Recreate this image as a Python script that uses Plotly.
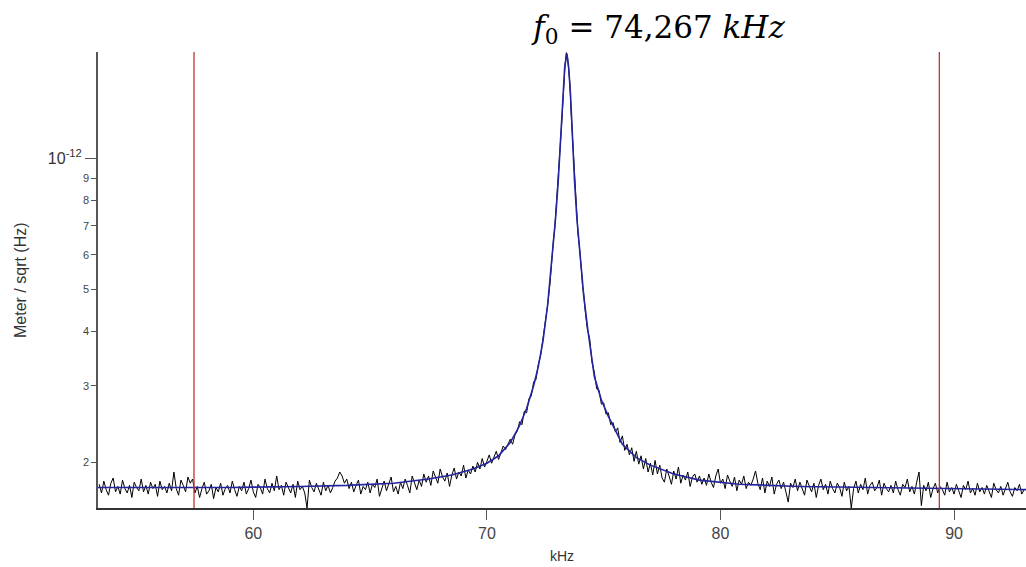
import math
import plotly.graph_objects as go

# ---------------- data (amplitudes in units of 1e-13 m/sqrt(Hz)) ----------------
SCALE = 1e-13

freq_khz = [
    53.4, 53.5, 53.6, 53.7, 53.8, 53.9, 54.0, 54.1, 54.2, 54.3,
    54.4, 54.5, 54.6, 54.7, 54.8, 54.9, 55.0, 55.1, 55.2, 55.3,
    55.4, 55.5, 55.6, 55.7, 55.8, 55.9, 56.0, 56.1, 56.2, 56.3,
    56.4, 56.5, 56.6, 56.7, 56.8, 56.9, 57.0, 57.1, 57.2, 57.3,
    57.4, 57.5, 57.6, 57.7, 57.8, 57.9, 58.0, 58.1, 58.2, 58.3,
    58.4, 58.5, 58.6, 58.7, 58.8, 58.9, 59.0, 59.1, 59.2, 59.3,
    59.4, 59.5, 59.6, 59.7, 59.8, 59.9, 60.0, 60.1, 60.2, 60.3,
    60.4, 60.5, 60.6, 60.7, 60.8, 60.9, 61.0, 61.1, 61.2, 61.3,
    61.4, 61.5, 61.6, 61.7, 61.8, 61.9, 62.0, 62.1, 62.2, 62.3,
    62.4, 62.5, 62.6, 62.7, 62.8, 62.9, 63.0, 63.1, 63.2, 63.3,
    63.4, 63.5, 63.6, 63.7, 63.8, 63.9, 64.0, 64.1, 64.2, 64.3,
    64.4, 64.5, 64.6, 64.7, 64.8, 64.9, 65.0, 65.1, 65.2, 65.3,
    65.4, 65.5, 65.6, 65.7, 65.8, 65.9, 66.0, 66.1, 66.2, 66.3,
    66.4, 66.5, 66.6, 66.7, 66.8, 66.9, 67.0, 67.1, 67.2, 67.3,
    67.4, 67.5, 67.6, 67.7, 67.8, 67.9, 68.0, 68.1, 68.2, 68.3,
    68.4, 68.5, 68.6, 68.7, 68.8, 68.9, 69.0, 69.1, 69.2, 69.3,
    69.4, 69.5, 69.6, 69.7, 69.8, 69.9, 70.0, 70.1, 70.2, 70.3,
    70.4, 70.5, 70.6, 70.7, 70.8, 70.9, 71.0, 71.1, 71.2, 71.3,
    71.4, 71.5, 71.6, 71.7, 71.8, 71.9, 72.0, 72.1, 72.2, 72.3,
    72.4, 72.5, 72.6, 72.7,
    72.75, 72.8, 72.85, 72.9, 72.95, 73.0, 73.05, 73.1, 73.15, 73.2,
    73.25, 73.3, 73.35, 73.4, 73.45, 73.5, 73.55, 73.6, 73.65, 73.7,
    73.75, 73.8, 73.85, 73.9, 73.95, 74.0, 74.05, 74.1, 74.15, 74.2,
    74.3, 74.4, 74.5, 74.6, 74.7, 74.8, 74.9, 75.0, 75.1, 75.2,
    75.3, 75.4, 75.5, 75.6, 75.7, 75.8, 75.9, 76.0, 76.1, 76.2,
    76.3, 76.4, 76.5, 76.6, 76.7, 76.8, 76.9, 77.0, 77.1, 77.2,
    77.3, 77.4, 77.5, 77.6, 77.7, 77.8, 77.9, 78.0, 78.1, 78.2,
    78.3, 78.4, 78.5, 78.6, 78.7, 78.8, 78.9, 79.0, 79.1, 79.2,
    79.3, 79.4, 79.5, 79.6, 79.7, 79.8, 79.9, 80.0, 80.1, 80.2,
    80.3, 80.4, 80.5, 80.6, 80.7, 80.8, 80.9, 81.0, 81.1, 81.2,
    81.3, 81.4, 81.5, 81.6, 81.7, 81.8, 81.9, 82.0, 82.1, 82.2,
    82.3, 82.4, 82.5, 82.6, 82.7, 82.8, 82.9, 83.0, 83.1, 83.2,
    83.3, 83.4, 83.5, 83.6, 83.7, 83.8, 83.9, 84.0, 84.1, 84.2,
    84.3, 84.4, 84.5, 84.6, 84.7, 84.8, 84.9, 85.0, 85.1, 85.2,
    85.3, 85.4, 85.5, 85.6, 85.7, 85.8, 85.9, 86.0, 86.1, 86.2,
    86.3, 86.4, 86.5, 86.6, 86.7, 86.8, 86.9, 87.0, 87.1, 87.2,
    87.3, 87.4, 87.5, 87.6, 87.7, 87.8, 87.9, 88.0, 88.1, 88.2,
    88.3, 88.4, 88.5, 88.6, 88.7, 88.8, 88.9, 89.0, 89.1, 89.2,
    89.3, 89.4, 89.5, 89.6, 89.7, 89.8, 89.9, 90.0, 90.1, 90.2,
    90.3, 90.4, 90.5, 90.6, 90.7, 90.8, 90.9, 91.0, 91.1, 91.2,
    91.3, 91.4, 91.5, 91.6, 91.7, 91.8, 91.9, 92.0, 92.1, 92.2,
    92.3, 92.4, 92.5, 92.6, 92.7, 92.8, 92.9, 93.0,
]

measured = [
    1.78, 1.70, 1.81, 1.73, 1.68, 1.79, 1.84, 1.71, 1.76, 1.69,
    1.82, 1.74, 1.70, 1.77, 1.66, 1.80, 1.75, 1.72, 1.83, 1.71,
    1.77, 1.69, 1.80, 1.74, 1.78, 1.67, 1.81, 1.73, 1.76, 1.70,
    1.79, 1.72, 1.90, 1.74, 1.68, 1.82, 1.77, 1.71, 1.85, 1.79,
    1.83, 1.70, 1.76, 1.66, 1.74, 1.80, 1.69, 1.72, 1.78, 1.65,
    1.75, 1.71, 1.79, 1.68, 1.74, 1.77, 1.70, 1.81, 1.73, 1.67,
    1.76, 1.72, 1.80, 1.69, 1.74, 1.82, 1.71, 1.66, 1.78, 1.75,
    1.69, 1.83, 1.74, 1.70, 1.79, 1.72, 1.86, 1.73, 1.77, 1.68,
    1.80, 1.74, 1.70, 1.78, 1.66, 1.81, 1.73, 1.76, 1.70, 1.57,
    1.82, 1.75, 1.71, 1.79, 1.74, 1.68, 1.80, 1.72, 1.77, 1.70,
    1.75, 1.81, 1.84, 1.90, 1.86, 1.79, 1.83, 1.74, 1.80, 1.71,
    1.77, 1.82, 1.69, 1.76, 1.73, 1.80, 1.70, 1.78, 1.75, 1.83,
    1.67, 1.74, 1.81, 1.72, 1.78, 1.85, 1.71, 1.76, 1.69, 1.80,
    1.74, 1.83, 1.77, 1.70, 1.86, 1.79, 1.73, 1.82, 1.76, 1.88,
    1.80, 1.86, 1.77, 1.91, 1.84, 1.79, 1.93, 1.85, 1.81, 1.89,
    1.76, 1.87, 1.94, 1.83, 1.90, 1.86, 1.97, 1.84, 1.92, 1.88,
    1.96, 1.90, 2.00, 1.93, 2.04, 1.95, 2.01, 2.08, 1.99, 2.06,
    2.12, 2.03, 2.10, 2.18, 2.14, 2.21, 2.26, 2.20, 2.31, 2.36,
    2.48, 2.44, 2.62, 2.60, 2.80, 2.84, 3.06, 3.10, 3.36, 3.52,
    3.86, 4.12, 4.60, 5.15,
    5.65, 5.95, 6.50, 6.85, 7.45, 8.05, 8.85, 9.65, 10.9, 12.0,
    13.6, 14.9, 16.5, 17.5, 17.2, 16.0, 14.9, 12.9, 11.5, 10.0,
    9.0, 8.0, 7.4, 6.7, 6.35, 5.75, 5.5, 5.05, 4.85, 4.5,
    4.05, 3.85, 3.40, 3.22, 2.95, 2.93, 2.72, 2.74, 2.58, 2.60,
    2.44, 2.47, 2.35, 2.40, 2.22, 2.30, 2.13, 2.20, 2.08, 2.16,
    2.01, 2.12, 1.98, 2.07, 1.93, 2.04, 1.90, 1.99, 1.87, 2.02,
    1.88, 1.97, 1.84, 1.80, 1.93, 1.86, 1.78, 1.91, 1.83, 1.95,
    1.79, 1.87, 1.82, 1.90, 1.76, 1.85, 1.88, 1.80, 1.86, 1.78,
    1.84, 1.77, 1.88, 1.80, 1.75, 1.86, 1.93, 1.79, 1.83, 1.74,
    1.87, 1.81, 1.76, 1.85, 1.72, 1.82, 1.78, 1.86, 1.74, 1.80,
    1.77, 1.83, 1.91, 1.79, 1.73, 1.84, 1.70, 1.81, 1.76, 1.85,
    1.69, 1.78, 1.82, 1.74, 1.80, 1.71, 1.62, 1.79, 1.75, 1.83,
    1.72, 1.80, 1.74, 1.68, 1.82, 1.76, 1.71, 1.79, 1.66, 1.77,
    1.83, 1.73, 1.78, 1.69, 1.81, 1.74, 1.70, 1.79, 1.75, 1.67,
    1.80, 1.72, 1.76, 1.57, 1.74, 1.81, 1.70, 1.78, 1.73, 1.84,
    1.69, 1.77, 1.80, 1.72, 1.75, 1.82, 1.68, 1.79, 1.74, 1.71,
    1.77, 1.70, 1.81, 1.73, 1.68, 1.78, 1.75, 1.83, 1.71, 1.76,
    1.69, 1.80, 1.90, 1.59, 1.77, 1.72, 1.80, 1.66, 1.74, 1.79,
    1.70, 1.76, 1.73, 1.68, 1.80, 1.71, 1.75, 1.69, 1.78, 1.72,
    1.66, 1.77, 1.73, 1.81, 1.70, 1.74, 1.68, 1.79, 1.71, 1.75,
    1.69, 1.77, 1.72, 1.66, 1.79, 1.73, 1.70, 1.76, 1.68, 1.74,
    1.80, 1.71, 1.67, 1.75, 1.72, 1.78, 1.69, 1.73,
]

fit_freq_khz = [
    53.35, 56.0, 59.0, 62.0, 64.0, 66.0, 67.5, 68.5, 69.4, 70.0,
    70.5, 71.0, 71.4, 71.7, 72.0, 72.2, 72.4, 72.6, 72.8, 72.95,
    73.05, 73.15, 73.25, 73.33, 73.42, 73.50, 73.58, 73.66, 73.75, 73.85,
    74.0, 74.15, 74.33, 74.6, 74.9, 75.2, 75.8, 76.4, 77.0, 78.0,
    79.1, 80.8, 83.4, 87.7, 93.08,
]
fit_values = [
    1.75, 1.75, 1.75, 1.76, 1.77, 1.79, 1.83, 1.87, 1.93, 1.99,
    2.07, 2.22, 2.43, 2.66, 3.00, 3.32, 3.80, 4.60, 6.00, 7.40,
    8.80, 10.8, 13.5, 16.2, 17.4, 16.2, 14.0, 11.2, 8.9, 7.3,
    5.8, 4.8, 4.0, 3.15, 2.78, 2.55, 2.20, 2.05, 1.97, 1.88,
    1.82, 1.78, 1.76, 1.745, 1.73,
]

cursor_khz = [57.46, 89.37]

x_ticks = [60, 70, 80, 90]
y_minor_ticks = [2, 3, 4, 5, 6, 7, 8, 9]
y_minor_labels = ["2", "3", "4", "5", "6", "7", "8", "9"]

assert len(freq_khz) == len(measured), (len(freq_khz), len(measured))
assert len(fit_freq_khz) == len(fit_values)

# ---------------- figure ----------------
y_lo, y_hi = 1.57e-13, 1.756e-12
yrange = [math.log10(y_lo), math.log10(y_hi)]
W, H = 1026, 567

fig = go.Figure()
fig.add_trace(go.Scatter(
    x=freq_khz, y=[v * SCALE for v in measured], mode="lines",
    line=dict(color="#000000", width=1), yaxis="y", showlegend=False,
))
fig.add_trace(go.Scatter(
    x=fit_freq_khz, y=[v * SCALE for v in fit_values], mode="lines",
    line=dict(color="#2424a0", width=1.6), yaxis="y2", showlegend=False,
))

for xc in cursor_khz:
    fig.add_vline(x=xc, line=dict(color="#c23434", width=1.3))

fig.update_layout(
    width=W, height=H,
    margin=dict(l=98, r=0, t=52, b=59),
    paper_bgcolor="white", plot_bgcolor="white",
    font=dict(family="Liberation Sans, Arial, sans-serif", color="#444"),
    title=dict(
        text="<i>f</i><sub>0</sub> = 74,267 <i>kHz</i>",
        font=dict(family="DejaVu Serif, serif", size=31, color="#000"),
        x=659 / W, y=1 - 27 / H, xanchor="center", yanchor="middle",
        xref="container", yref="container",
    ),
    xaxis=dict(
        range=[53.35, 93.08], showline=True, linecolor="#333", linewidth=1.5,
        ticks="outside", ticklen=10, tickwidth=1.3, tickcolor="#555",
        tickvals=x_ticks, tickfont=dict(size=16, color="#444"),
        showgrid=False, zeroline=False,
    ),
    yaxis=dict(
        type="log", range=yrange, showline=True, linecolor="#555", linewidth=1.5,
        ticks="outside", ticklen=5, tickwidth=1.2, tickcolor="#555",
        tickvals=[v * SCALE for v in y_minor_ticks], ticktext=y_minor_labels,
        tickfont=dict(size=11, color="#444"),
        showgrid=False, zeroline=False,
    ),
    yaxis2=dict(
        type="log", range=yrange, overlaying="y", side="left", anchor="x",
        showline=False, ticks="outside", ticklen=12, tickwidth=1.2, tickcolor="#555",
        tickvals=[1e-12], ticktext=["10<sup>-12</sup>"],
        tickfont=dict(size=16, color="#333"),
        showgrid=False, zeroline=False,
    ),
    annotations=[
        dict(text="Meter / sqrt (Hz)", textangle=-90, showarrow=False,
             xref="paper", yref="paper", x=(20 - 98) / 928, y=0.5,
             xanchor="center", yanchor="middle",
             font=dict(size=16, color="#333")),
        dict(text="kHz", showarrow=False, xref="paper", yref="paper",
             x=0.5, y=(508 - 556) / 456, xanchor="center", yanchor="middle",
             font=dict(size=14, color="#333")),
    ],
)

# remove the browser's default 8 px body margin so the figure fills the window
fig.write_html(
    "out.html",
    config={"displayModeBar": False},
    post_script="document.body.style.margin='0px';document.body.style.overflow='hidden';",
)
